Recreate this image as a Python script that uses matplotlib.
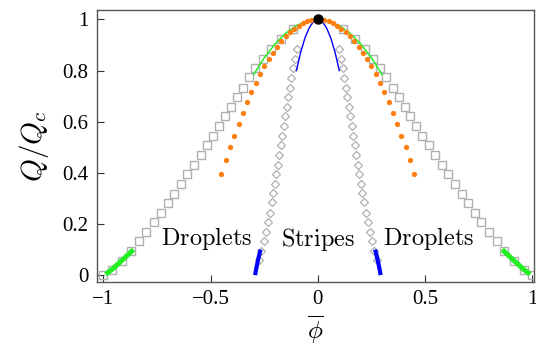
import matplotlib
matplotlib.use("Agg")
import matplotlib.pyplot as plt
import numpy as np

plt.rcParams['mathtext.fontset'] = 'cm'

# ---- data ----
# droplet boundary (gray squares): |phi| vs Q/Qc
sq_Q = [0.0, 0.021, 0.055, 0.095, 0.133, 0.168, 0.209, 0.244, 0.281, 0.319, 0.357,
        0.395, 0.431, 0.471, 0.510, 0.546, 0.584, 0.624, 0.659, 0.698, 0.733, 0.773,
        0.810, 0.846, 0.885, 0.924, 0.961]
sq_phi = [1.0, 0.962, 0.913, 0.870, 0.836, 0.800, 0.763, 0.732, 0.699, 0.670, 0.639,
          0.608, 0.577, 0.546, 0.516, 0.488, 0.460, 0.432, 0.405, 0.377, 0.350, 0.320,
          0.291, 0.256, 0.220, 0.171, 0.115]

# stripe boundary (gray diamonds)
di_Q = [0.059, 0.095, 0.135, 0.170, 0.209, 0.244, 0.284, 0.320, 0.357, 0.396, 0.431,
        0.471, 0.509, 0.545, 0.582, 0.621, 0.658, 0.697, 0.732, 0.770, 0.809, 0.846, 0.885]
di_phi = [0.276, 0.264, 0.252, 0.242, 0.233, 0.224, 0.216, 0.208, 0.201, 0.194, 0.187,
          0.180, 0.173, 0.166, 0.159, 0.152, 0.145, 0.138, 0.131, 0.123, 0.115, 0.107, 0.099]

# orange dots
or_phi = [0.01, 0.03, 0.05, 0.07, 0.09, 0.11, 0.13, 0.15, 0.17, 0.19, 0.21, 0.23,
          0.25, 0.27, 0.29, 0.31, 0.33, 0.35, 0.37, 0.39, 0.41, 0.43, 0.45]
or_Q = [1.0, 0.998, 0.993, 0.985, 0.975, 0.964, 0.950, 0.934, 0.914, 0.893, 0.870,
        0.845, 0.816, 0.785, 0.751, 0.715, 0.676, 0.636, 0.592, 0.546, 0.500, 0.450, 0.395]

# thin green curve
gt_phi = [0.0, 0.05, 0.10, 0.15, 0.20, 0.25, 0.30]
gt_Q = [1.0, 0.994, 0.976, 0.946, 0.904, 0.850, 0.784]

# thin blue curve
bt_phi = [0.0, 0.02, 0.04, 0.06, 0.08, 0.10]
bt_Q = [1.0, 0.992, 0.968, 0.928, 0.872, 0.800]

# thick green (bottom)
gk_phi = [0.99, 0.96, 0.93, 0.90, 0.875, 0.86]
gk_Q = [0.003, 0.022, 0.045, 0.068, 0.088, 0.100]

# thick blue (bottom)
bk_phi = [0.293, 0.285, 0.276, 0.267]
bk_Q = [0.0, 0.035, 0.070, 0.100]

peak_phi = [0.0]
peak_Q = [1.0]

labels = ["Droplets", "Stripes", "Droplets"]
label_x = [-0.52, 0.0, 0.515]
label_y = [0.118, 0.112, 0.118]

xticks = [-1, -0.5, 0, 0.5, 1]
xticklabels = ["\u22121", "\u22120.5", "0", "0.5", "1"]
yticks = [0, 0.2, 0.4, 0.6, 0.8, 1.0]
yticklabels = ["0", "0.2", "0.4", "0.6", "0.8", "1"]

# ---- figure ----
fig = plt.figure(figsize=(5.36, 3.51), dpi=100)
ax = fig.add_axes([97/536, 1-282/351, (534-97)/536, (282-10)/351])

def both(phi):
    p = np.asarray(phi, float)
    return np.concatenate([-p[::-1], p])

def bothQ(q):
    q = np.asarray(q, float)
    return np.concatenate([q[::-1], q])

gray = '#b0b0b0'
for sgn in (-1, 1):
    ax.plot(sgn*np.asarray(sq_phi), sq_Q, ls='none', marker='s', ms=5.6, mfc='none',
            mec=gray, mew=1.0, zorder=2)
    ax.plot(sgn*np.asarray(di_phi), di_Q, ls='none', marker='D', ms=3.8, mfc='none',
            mec=gray, mew=0.9, zorder=2)

# thin lines
ax.plot(both(gt_phi), bothQ(gt_Q), color='#22ee22', lw=1.1, zorder=3)
ax.plot(both(bt_phi), bothQ(bt_Q), color='#0000ff', lw=1.0, zorder=3)

# thick lines
for sgn in (-1, 1):
    ax.plot(sgn*np.asarray(gk_phi), gk_Q, color='#22ee22', lw=3.6, solid_capstyle='butt', zorder=3)
    ax.plot(sgn*np.asarray(bk_phi), bk_Q, color='#0000ff', lw=3.0, solid_capstyle='butt', zorder=3)

# orange dots
ax.plot(both(or_phi), bothQ(or_Q), ls='none', marker='o', ms=3.8, mfc='#ff7f0e',
        mec='#ff7f0e', mew=0, zorder=4)

# peak
ax.plot(peak_phi, peak_Q, ls='none', marker='o', ms=6.5, color='black', zorder=5)

for t, x, y in zip(labels, label_x, label_y):
    ax.text(x, y, r"$\mathrm{%s}$" % t, ha='center', va='baseline', fontsize=17.5,
            color='black', zorder=6)

ax.set_xlim(-1.03, 1.008)
ax.set_ylim(-0.027, 1.037)
ax.set_xticks(xticks)
ax.set_xticklabels(xticklabels)
ax.set_yticks(yticks)
ax.set_yticklabels(yticklabels)
ax.tick_params(direction='in', length=5, width=0.8, color='#333333',
               labelsize=15, pad=6, top=False, right=False)
for lab in ax.get_xticklabels() + ax.get_yticklabels():
    lab.set_fontfamily('Liberation Serif')
for s in ax.spines.values():
    s.set_color('#555555')
    s.set_linewidth(1.0)

ax.set_ylabel(r"$Q/Q_c$", fontsize=21, labelpad=8)
ax.set_xlabel(r"$\overline{\phi}$", fontsize=18, labelpad=3)

fig.savefig("out.png", dpi=100)
